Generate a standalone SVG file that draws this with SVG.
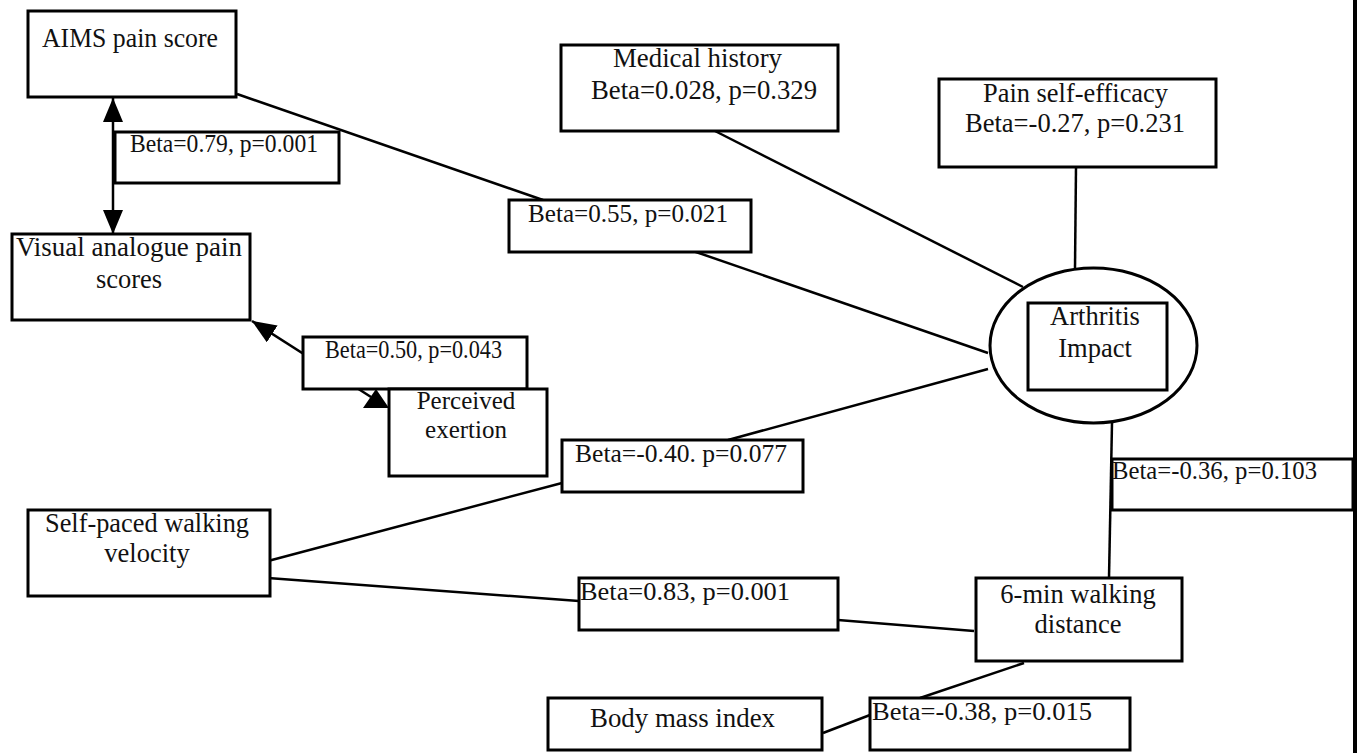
<svg xmlns="http://www.w3.org/2000/svg" width="1359" height="753" viewBox="0 0 1359 753">
<style>
.box{fill:#fff;stroke:#000;stroke-width:3}
.ln{stroke:#000;stroke-width:2.5;fill:none}
text{font-family:"Liberation Serif","Times New Roman",serif;fill:#111}
.n{font-size:26.5px}
.b{font-size:25px}
.c{text-anchor:middle}
</style>
<defs>
<marker id="ah" markerUnits="userSpaceOnUse" markerWidth="26" markerHeight="22" refX="24" refY="10" orient="auto-start-reverse" viewBox="0 0 26 22">
<path d="M0,0 L24,10 L0,20 z" fill="#000"/>
</marker>
</defs>
<rect width="1359" height="753" fill="#fff"/>
<g id="connectors">
<line class="ln" x1="113" y1="98" x2="113" y2="234" marker-start="url(#ah)" marker-end="url(#ah)"/>
<line class="ln" x1="237" y1="94" x2="543" y2="200"/>
<line class="ln" x1="693" y1="251" x2="988" y2="353"/>
<line class="ln" x1="715" y1="131" x2="1023" y2="287"/>
<line class="ln" x1="1076" y1="167" x2="1075" y2="268"/>
<line class="ln" x1="988" y1="369" x2="728" y2="440"/>
<line class="ln" x1="562" y1="483" x2="268" y2="561"/>
<line class="ln" x1="268" y1="578" x2="579" y2="601"/>
<line class="ln" x1="838" y1="620" x2="974" y2="631"/>
<line class="ln" x1="1112" y1="423" x2="1109" y2="578"/>
<line class="ln" x1="1024" y1="663" x2="920" y2="698"/>
<line class="ln" x1="823" y1="733" x2="870" y2="715"/>
<line class="ln" x1="252" y1="321" x2="371" y2="397" marker-start="url(#ah)"/>
<polygon points="376,389 363,408 389,408" fill="#000"/>
<line x1="1355" y1="0" x2="1355" y2="753" stroke="#000" stroke-width="4"/>
</g>
<g id="aims"><rect class="box" x="28" y="11" width="208" height="86"/><text class="n" x="42" y="47" textLength="176" lengthAdjust="spacingAndGlyphs">AIMS pain score</text></g>
<g id="beta079"><rect class="box" x="115" y="132" width="224" height="51"/><text class="b" x="130" y="152" textLength="188" lengthAdjust="spacingAndGlyphs">Beta=0.79, p=0.001</text></g>
<g id="visual"><rect class="box" x="12" y="234" width="238" height="86"/><text class="n" x="16" y="256" textLength="226" lengthAdjust="spacingAndGlyphs">Visual analogue pain</text><text class="n c" x="129" y="288">scores</text></g>
<g id="beta050"><rect class="box" x="303" y="337" width="224" height="52"/><text class="b" x="325" y="358" textLength="177" lengthAdjust="spacingAndGlyphs">Beta=0.50, p=0.043</text></g>
<g id="perceived"><rect class="box" x="389" y="389" width="158" height="87"/><text class="b c" x="466" y="409">Perceived</text><text class="b c" x="466" y="438">exertion</text></g>
<g id="medical"><rect class="box" x="561" y="45" width="277" height="86"/><text class="n" x="613" y="67" textLength="169" lengthAdjust="spacingAndGlyphs">Medical history</text><text class="n" x="591" y="99" textLength="226" lengthAdjust="spacingAndGlyphs">Beta=0.028, p=0.329</text></g>
<g id="painse"><rect class="box" x="939" y="79" width="277" height="88"/><text class="n" x="983" y="102" textLength="185" lengthAdjust="spacingAndGlyphs">Pain self-efficacy</text><text class="n" x="965" y="132" textLength="220" lengthAdjust="spacingAndGlyphs">Beta=-0.27, p=0.231</text></g>
<g id="beta055"><rect class="box" x="509" y="200" width="242" height="52"/><text class="b" x="528" y="222" textLength="200" lengthAdjust="spacingAndGlyphs">Beta=0.55, p=0.021</text></g>
<g id="arthritis"><ellipse class="box" cx="1093.5" cy="345.5" rx="103.5" ry="77.5"/><rect class="box" x="1028" y="303" width="139" height="87"/><text class="n c" x="1095" y="325">Arthritis</text><text class="n c" x="1095" y="357">Impact</text></g>
<g id="beta040"><rect class="box" x="562" y="440" width="241" height="52"/><text class="b" x="575" y="462" textLength="212" lengthAdjust="spacingAndGlyphs">Beta=-0.40. p=0.077</text></g>
<g id="beta036"><rect class="box" x="1112" y="459" width="241" height="51"/><text class="b" x="1112" y="479" textLength="205" lengthAdjust="spacingAndGlyphs">Beta=-0.36, p=0.103</text></g>
<g id="selfpaced"><rect class="box" x="28" y="510" width="242" height="86"/><text class="n" x="45" y="532" textLength="204" lengthAdjust="spacingAndGlyphs">Self-paced walking</text><text class="n c" x="147" y="562">velocity</text></g>
<g id="beta083"><rect class="box" x="579" y="578" width="259" height="52"/><text class="b" x="580" y="600" textLength="210" lengthAdjust="spacingAndGlyphs">Beta=0.83, p=0.001</text></g>
<g id="sixmin"><rect class="box" x="976" y="578" width="206" height="83"/><text class="n c" x="1078" y="603">6-min walking</text><text class="n c" x="1078" y="633">distance</text></g>
<g id="bmi"><rect class="box" x="548" y="698" width="274" height="52"/><text class="n" x="590" y="727" textLength="185" lengthAdjust="spacingAndGlyphs">Body mass index</text></g>
<g id="beta038"><rect class="box" x="870" y="698" width="260" height="52"/><text class="b" x="872" y="720" textLength="220" lengthAdjust="spacingAndGlyphs">Beta=-0.38, p=0.015</text></g>
</svg>
